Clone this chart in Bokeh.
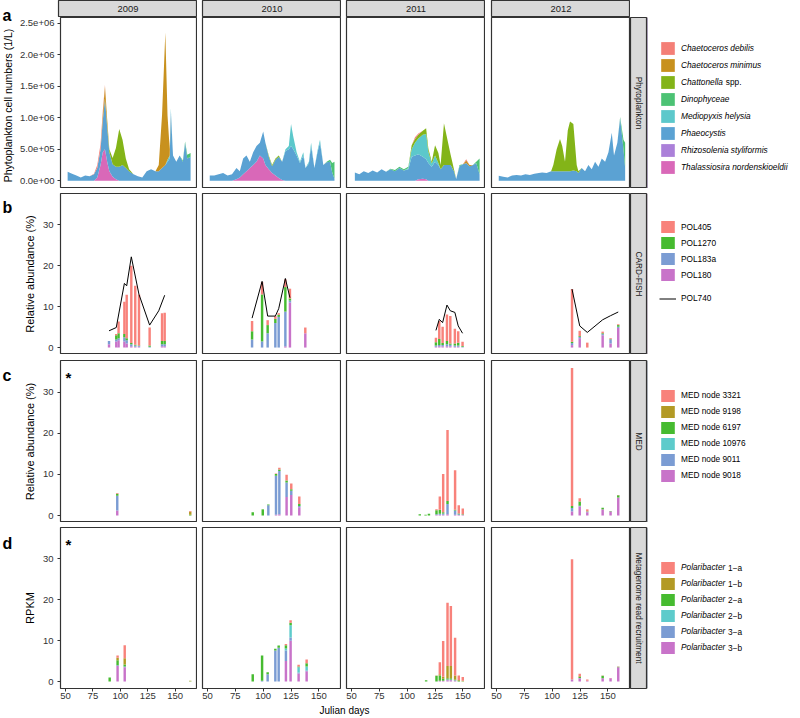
import math
from bokeh.plotting import figure
from bokeh.layouts import row, column
from bokeh.models import ColumnDataSource, Range1d, FixedTicker, Label, Legend, LegendItem
from bokeh.embed import file_html
from bokeh.resources import INLINE

FONT = "Liberation Sans"
YEARS = [2009, 2010, 2011, 2012]
X_TICKS = [50, 75, 100, 125, 150]
A_Y_TICKS = [0, 500000, 1000000, 1500000, 2000000, 2500000]
A_Y_LABELS = ["0.0e+00", "5.0e+05", "1.0e+06", "1.5e+06", "2.0e+06", "2.5e+06"]
B_Y_TICKS = [0, 10, 20, 30]
ROW_STRIPS = ["Phytoplankton", "CARD-FISH", "MED", "Metagenome read recruitment"]
ROW_YLABELS = ["Phytoplankton cell numbers (1/L)", "Relative abundance (%)", "Relative abundance (%)", "RPKM"]
LETTERS = ["a", "b", "c", "d"]

# ---------------- Phytoplankton (stacked areas) ----------------
PHYTO_NAMES = ["Chaetoceros debilis", "Chaetoceros minimus", "Chattonella", "Dinophyceae",
               "Mediopyxis helysia", "Phaeocystis", "Rhizosolenia styliformis", "Thalassiosira nordenskioeldii"]
PHYTO_KEYS = ["cdeb", "cmin", "chat", "dino", "medio", "phaeo", "rhizo", "thal"]
PHYTO_COLORS = ["#F47F77", "#C8911E", "#83B418", "#4CC274", "#5CC8CB", "#5BA2D3", "#AB80D9", "#D968B8"]

P2009_DAYS = [52, 56, 60, 64, 68, 72, 76, 79, 82, 84, 86, 88, 90, 93, 96, 99, 102, 105, 108, 112, 116, 120,
              124, 128, 132, 135, 138, 141, 143, 145, 146, 148, 151, 154, 157, 159, 161, 164]
P2009_PHAEO = [1.4e5, 1.1e5, 8e4, 5e4, 8e4, 7e4, 1e5, 1.5e5, 2.5e5, 5e5, 8e5, 5.5e5, 3e5, 2e5, 2e5, 2.2e5,
               2.5e5, 2e5, 1.5e5, 1e5, 7e4, 5e4, 1.5e5, 1.8e5, 1.5e5, 1.5e5, 2e5, 2.5e5, 3e5, 3.5e5, 1.1e6,
               4e5, 3e5, 4e5, 3e5, 6e5, 3.5e5, 3.8e5]
P2009_OTHER = {
    "thal": {79: 5e4, 82: 2.5e5, 84: 4.5e5, 86: 5e5, 88: 3e5, 90: 1.5e5, 93: 6e4, 96: 2e4},
    "cmin": {84: 1e5, 86: 2e5, 88: 1e5, 135: 1e5, 138: 8.4e5, 141: 2.1e6, 143: 7e5, 145: 1e5},
    "chat": {88: 3e4, 90: 5e4, 93: 1e5, 96: 3e5, 99: 6e5, 102: 4e5, 105: 1.5e5, 108: 3e4},
    "cdeb": {76: 1e4, 79: 5e4, 82: 8e4, 84: 5e4, 86: 2e4},
    "dino": {157: 2e4, 159: 2e4, 161: 6e4, 164: 6e4},
    "medio": {143: 3e4, 145: 5e4, 146: 5e4},
    "rhizo": {},
}

P2010_DAYS = [52, 56, 60, 64, 68, 72, 76, 79, 82, 85, 88, 91, 94, 97, 100, 102, 105, 108, 111, 114, 117, 120,
              123, 125, 127, 130, 133, 136, 138, 141, 143, 146, 149, 151, 154, 157, 160, 162, 164]
P2010_PHAEO = [8e4, 8e4, 1e5, 1.2e5, 8e4, 1e5, 1.8e5, 1e5, 2.5e5, 2.5e5, 1e5, 2e5, 2.5e5, 2e5, 4.3e5, 3.5e5,
               2e5, 1.1e5, 2.5e5, 3.4e5, 2.9e5, 4.7e5, 5e5, 5.5e5, 5e5, 4e5, 2.8e5, 4e5, 2e5, 2.7e5, 5.5e5,
               2e5, 4.7e5, 6e5, 2.5e5, 2.9e5, 3e5, 1.3e5, 3e4]
P2010_OTHER = {
    "thal": {76: 2e4, 79: 5e4, 82: 1e5, 85: 1.5e5, 88: 2e5, 91: 2.5e5, 94: 3e5, 97: 4e5, 100: 3.5e5,
             102: 2.5e5, 105: 1.8e5, 108: 1.2e5, 111: 8e4, 114: 4e4, 117: 1e4},
    "medio": {120: 3e4, 123: 5e4, 125: 3.5e5, 127: 2e5, 130: 5e4, 133: 2e4, 136: 5e4, 141: 3e4, 143: 5e4,
              149: 3e4, 151: 5e4},
    "dino": {157: 1e4, 160: 3e4, 162: 1.5e5, 164: 2.7e5},
    "chat": {105: 2e4, 108: 2e4, 111: 2e4, 114: 2e4},
    "cmin": {}, "cdeb": {}, "rhizo": {},
}

P2011_DAYS = [53, 57, 61, 65, 69, 73, 77, 81, 85, 89, 93, 97, 101, 104, 107, 110, 114, 117, 119, 122, 125,
              128, 130, 133, 136, 139, 142, 144, 147, 150, 153, 156, 159, 162, 165]
P2011_PHAEO = [1.3e5, 1e5, 1.5e5, 1.2e5, 1.6e5, 1.3e5, 1.8e5, 1.4e5, 1.8e5, 1.5e5, 2e5, 1.6e5, 1.8e5, 3.8e5,
               4e5, 4e5, 3.5e5, 3.2e5, 2.8e5, 2.2e5, 3e5, 2.5e5, 1.8e5, 2.5e5, 2.5e5, 2.5e5, 1.5e5, 2.5e4,
               2.3e5, 2.6e5, 2.8e5, 2.3e5, 2.5e5, 2.8e5, 1e5]
P2011_OTHER = {
    "medio": {101: 2e4, 104: 1.2e5, 107: 2e5, 110: 2.5e5, 114: 3.5e5, 117: 4e5, 119: 1.8e5, 122: 5e4,
              125: 1e5, 128: 3e4},
    "chat": {104: 6e4, 107: 6e4, 110: 6e4, 114: 6e4, 117: 9e4, 119: 5e4, 122: 3e4, 125: 1.6e5, 128: 1.6e5,
             130: 7e4, 133: 6.6e5, 136: 4.1e5, 139: 1.6e5, 142: 3e4},
    "dino": {85: 1e4, 89: 2e4, 93: 2e4, 97: 2e4, 101: 2e4, 147: 2e4, 162: 2e4, 165: 2.5e5},
    "cmin": {153: 4e4, 156: 2e4},
    "cdeb": {107: 3e4, 110: 2e4, 153: 2e4},
    "thal": {110: 2e4, 114: 3e4, 117: 2e4},
    "rhizo": {},
}

P2012_DAYS = [52, 56, 60, 64, 68, 72, 76, 80, 84, 88, 91, 95, 99, 101, 104, 107, 109, 111.5, 114, 116,
              119, 122, 123.5, 126.5, 129.5, 132.5, 135.5, 138.5, 141.5, 144.5, 147.5, 150.5, 153.5, 155.5,
              158.5, 161, 164, 165.5]
P2012_PHAEO = [7.6e4, 6e4, 5e4, 8e4, 9e4, 8e4, 1e5, 9e4, 1.1e5, 1.2e5, 1.3e5, 1.2e5, 1.5e5, 1.5e5, 1.5e5,
               1.5e5, 1.5e5, 1.5e5, 1.5e5, 1.5e5, 1.6e5, 1.5e5, 1.2e5, 2e5, 1.5e5, 2.5e5, 1.8e5, 3e5,
               2.2e5, 3.5e5, 3e5, 4.5e5, 7.6e5, 4e5, 6e5, 9.9e5, 5e5, 2e5]
P2012_OTHER = {
    "chat": {101: 1e5, 104: 3.5e5, 107: 5.1e5, 109: 4e5, 111.5: 1.5e5, 114: 6.5e5, 116: 7.9e5, 119: 7.4e5,
             122: 1e5, 123.5: 3e4},
    "dino": {161: 2e4, 164: 1.5e5, 165.5: 4e5},
    "medio": {}, "cmin": {}, "cdeb": {}, "thal": {}, "rhizo": {},
}

PHYTO = {2009: (P2009_DAYS, P2009_PHAEO, P2009_OTHER), 2010: (P2010_DAYS, P2010_PHAEO, P2010_OTHER),
         2011: (P2011_DAYS, P2011_PHAEO, P2011_OTHER), 2012: (P2012_DAYS, P2012_PHAEO, P2012_OTHER)}

# ---------------- CARD-FISH (stacked bars + POL740 line) ----------------
CARD_NAMES = ["POL405", "POL1270", "POL183a", "POL180"]
CARD_KEYS = ["pol405", "pol1270", "pol183a", "pol180"]
CARD_COLORS = ["#F8827B", "#46BB30", "#7B9CD3", "#C873C9"]

CARD_2009_DAYS = [89.7, 96.3, 98.4, 103.7, 105.8, 110.0, 113.6, 117.0, 126.7, 138.0, 140.4]
CARD_2009 = {"pol180": [0.8, 1.5, 1.8, 1.5, 1.0, 0.3, 0.2, 0.2, 0.0, 0.3, 0.3],
             "pol183a": [0.8, 0.5, 0.5, 1.0, 0.8, 0.5, 0.3, 0.2, 0.2, 0.5, 0.5],
             "pol1270": [0.0, 1.0, 1.2, 0.8, 0.5, 0.3, 0.2, 0.1, 0.3, 0.8, 0.8],
             "pol405": [0.0, 0.3, 2.9, 7.9, 10.6, 18.9, 14.4, 12.5, 4.4, 6.8, 6.9]}
POL740_2009_DAYS = [89.7, 96.3, 103.7, 105.8, 110.0, 117.0, 126.7, 135.0, 140.4]
POL740_2009 = [4.1, 4.9, 15.7, 15.1, 22.2, 13.0, 5.5, 9.0, 12.8]

CARD_2010_DAYS = [90.0, 99.0, 104.0, 110.9, 113.9, 119.9, 124.0, 137.8]
CARD_2010 = {"pol180": [0.0, 0.0, 0.0, 0.0, 0.0, 0.3, 11.0, 3.5],
             "pol183a": [2.0, 1.5, 3.5, 6.0, 7.5, 8.5, 0.5, 0.0],
             "pol1270": [2.0, 11.5, 2.0, 1.0, 0.5, 6.0, 0.5, 0.0],
             "pol405": [2.5, 3.0, 1.2, 0.7, 0.4, 1.9, 2.4, 1.4]}
POL740_2010_DAYS = [90.0, 99.0, 104.0, 110.9, 113.9, 119.9, 124.0]
POL740_2010 = [7.2, 16.2, 7.7, 7.7, 9.5, 16.9, 12.2]

CARD_2011_DAYS = [125.8, 128.8, 131.8, 135.7, 138.7, 142.8, 145.8, 149.7]
CARD_2011 = {"pol180": [0.2, 0.3, 0.3, 0.3, 0.3, 0.2, 0.2, 0.1],
             "pol183a": [0.3, 0.3, 0.3, 0.5, 0.4, 0.3, 0.3, 0.1],
             "pol1270": [0.8, 1.5, 0.5, 0.8, 0.3, 0.5, 0.7, 0.2],
             "pol405": [1.1, 4.4, 4.0, 6.5, 6.7, 3.6, 2.8, 1.0]}
POL740_2011_DAYS = [125.8, 128.8, 131.8, 135.7, 138.7, 142.8, 145.8, 149.7]
POL740_2011 = [4.2, 6.9, 6.1, 10.4, 9.0, 8.6, 5.3, 3.5]

CARD_2012_DAYS = [117.8, 124.7, 131.5, 145.3, 152.4, 159.3]
CARD_2012 = {"pol180": [0.6, 2.3, 0.0, 3.0, 1.0, 4.8],
             "pol183a": [0.5, 0.3, 0.0, 0.3, 1.0, 0.3],
             "pol1270": [0.3, 0.2, 0.0, 0.2, 0.1, 0.4],
             "pol405": [12.9, 1.3, 1.2, 0.4, 0.2, 0.2]}
POL740_2012_DAYS = [117.8, 124.7, 131.5, 145.3, 152.4, 159.3]
POL740_2012 = [14.3, 5.3, 3.7, 6.8, 7.8, 8.7]

CARD = {2009: (CARD_2009_DAYS, CARD_2009, POL740_2009_DAYS, POL740_2009),
        2010: (CARD_2010_DAYS, CARD_2010, POL740_2010_DAYS, POL740_2010),
        2011: (CARD_2011_DAYS, CARD_2011, POL740_2011_DAYS, POL740_2011),
        2012: (CARD_2012_DAYS, CARD_2012, POL740_2012_DAYS, POL740_2012)}

# ---------------- MED nodes (stacked bars) ----------------
MED_NAMES = ["MED node 3321", "MED node 9198", "MED node 6197", "MED node 10976", "MED node 9011", "MED node 9018"]
MED_KEYS = ["m3321", "m9198", "m6197", "m10976", "m9011", "m9018"]
SIX_COLORS = ["#F8827B", "#B39A25", "#46BB30", "#5DCBCB", "#7B9CD3", "#C873C9"]

MED_2009_DAYS = [97.2, 163.7]
MED_2009 = {"m9018": [1.2, 0.0], "m9011": [3.6, 0.0], "m10976": [0.0, 0.0],
            "m6197": [0.5, 0.2], "m9198": [0.0, 0.7], "m3321": [0.2, 0.2]}
MED_2010_DAYS = [90.6, 99.6, 104.6, 111.5, 114.5, 121.0, 125.2, 132.4]
MED_2010 = {"m9018": [0.0, 0.0, 0.0, 0.2, 0.3, 4.5, 5.0, 2.0],
            "m9011": [0.0, 0.0, 2.5, 9.5, 10.5, 3.5, 1.0, 0.3],
            "m10976": [0.0, 0.0, 0.0, 0.0, 0.0, 0.0, 0.0, 0.0],
            "m6197": [0.8, 1.5, 0.2, 0.4, 0.4, 0.5, 0.4, 0.5],
            "m9198": [0.0, 0.0, 0.0, 0.0, 0.0, 0.0, 0.0, 0.0],
            "m3321": [0.0, 0.0, 0.0, 0.1, 0.4, 1.4, 1.4, 1.8]}
MED_2011_DAYS = [111.3, 116.5, 119.5, 126.3, 129.3, 132.3, 136.2, 143.0, 146.3, 149.9]
MED_2011 = {"m9018": [0.0, 0.0, 0.0, 0.1, 0.2, 0.2, 0.3, 0.2, 0.1, 0.1],
            "m9011": [0.0, 0.0, 0.0, 0.2, 0.2, 0.3, 2.5, 1.0, 0.2, 0.1],
            "m10976": [0.0, 0.0, 0.0, 0.0, 0.0, 0.0, 0.0, 0.0, 0.0, 0.0],
            "m6197": [0.3, 0.2, 0.4, 1.0, 1.0, 0.3, 0.7, 0.2, 0.2, 0.1],
            "m9198": [0.0, 0.0, 0.0, 0.0, 0.0, 0.0, 0.0, 0.0, 0.0, 0.0],
            "m3321": [0.0, 0.0, 0.0, 0.2, 3.2, 9.3, 17.3, 9.6, 2.0, 1.4]}
MED_2012_DAYS = [117.8, 124.7, 131.5, 145.3, 152.4, 159.3]
MED_2012 = {"m9018": [1.0, 2.2, 0.8, 1.5, 1.0, 4.4],
            "m9011": [0.8, 0.2, 0.1, 0.0, 0.0, 0.0],
            "m10976": [0.0, 0.0, 0.0, 0.0, 0.0, 0.0],
            "m6197": [0.5, 1.0, 0.1, 0.4, 0.1, 0.5],
            "m9198": [0.0, 0.0, 0.0, 0.0, 0.0, 0.0],
            "m3321": [33.6, 0.8, 0.5, 0.0, 0.0, 0.1]}
MED = {2009: (MED_2009_DAYS, MED_2009), 2010: (MED_2010_DAYS, MED_2010),
       2011: (MED_2011_DAYS, MED_2011), 2012: (MED_2012_DAYS, MED_2012)}

# ---------------- Metagenome read recruitment (stacked bars) ----------------
META_SUFFIX = ["1\u2212a", "1\u2212b", "2\u2212a", "2\u2212b", "3\u2212a", "3\u2212b"]
META_KEYS = ["p1a", "p1b", "p2a", "p2b", "p3a", "p3b"]

META_2009_DAYS = [90.3, 97.5, 104.0, 163.7]
META_2009 = {"p3b": [0.0, 3.8, 3.5, 0.0], "p3a": [0.0, 0.2, 0.2, 0.0], "p2b": [0.0, 0.0, 0.0, 0.0],
             "p2a": [1.0, 1.2, 0.5, 0.1], "p1b": [0.0, 0.6, 1.5, 0.1], "p1a": [0.0, 0.6, 3.2, 0.0]}
META_2010_DAYS = [90.6, 99.0, 104.0, 110.9, 113.9, 120.4, 124.6, 131.8, 139.0]
META_2010 = {"p3b": [0.0, 0.0, 0.0, 0.0, 0.0, 5.0, 10.0, 2.0, 2.5],
             "p3a": [0.0, 0.2, 1.8, 7.6, 8.3, 2.6, 0.8, 0.2, 0.2],
             "p2b": [0.0, 0.0, 0.0, 0.0, 0.0, 0.5, 3.0, 1.3, 1.0],
             "p2a": [1.8, 6.2, 0.5, 0.4, 0.5, 0.8, 0.6, 0.2, 0.8],
             "p1b": [0.0, 0.0, 0.0, 0.0, 0.0, 0.0, 0.0, 0.0, 0.0],
             "p1a": [0.0, 0.0, 0.0, 0.0, 0.0, 0.3, 0.6, 0.4, 0.9]}
META_2011_DAYS = [117.0, 126.3, 129.3, 132.3, 136.2, 139.2, 143.0, 146.3, 149.9]
META_2011 = {"p3b": [0.0, 0.0, 0.2, 0.2, 0.3, 0.3, 0.2, 0.0, 0.0],
             "p3a": [0.0, 0.0, 0.0, 0.0, 0.2, 0.2, 0.1, 0.0, 0.0],
             "p2b": [0.0, 0.0, 0.0, 0.0, 0.0, 0.0, 0.0, 0.0, 0.0],
             "p2a": [0.3, 1.4, 1.3, 0.5, 0.3, 0.3, 0.2, 0.2, 0.1],
             "p1b": [0.0, 0.0, 0.3, 0.5, 3.0, 3.0, 1.0, 0.2, 0.1],
             "p1a": [0.0, 0.1, 2.9, 8.7, 15.5, 14.7, 9.2, 1.1, 0.9]}
META_2012_DAYS = [117.8, 124.7, 131.5, 145.3, 152.4, 159.3]
META_2012 = {"p3b": [0.4, 0.8, 0.2, 0.8, 0.8, 3.5],
             "p3a": [0.1, 0.1, 0.0, 0.0, 0.0, 0.0],
             "p2b": [0.0, 0.0, 0.0, 0.0, 0.0, 0.0],
             "p2a": [0.0, 0.2, 0.0, 0.6, 0.0, 0.1],
             "p1b": [0.0, 0.2, 0.0, 0.0, 0.0, 0.0],
             "p1a": [29.4, 0.6, 0.3, 0.1, 0.1, 0.1]}
META = {2009: (META_2009_DAYS, META_2009), 2010: (META_2010_DAYS, META_2010),
        2011: (META_2011_DAYS, META_2011), 2012: (META_2012_DAYS, META_2012)}

# ---------------- layout constants ----------------
LEFT_TOTAL = 58            # page x 0 -> 58 (left of first frame)
GUTTER = [16, 20, 20, 20]  # text column left of the first panel in each row
COL_LEFT = [5, 5, 6]       # gaps before columns 2..4
FRAME_W = 139
STRIP_W = 17
LEG_W = 150
STRIP_H = 17
ROW_FRAME_H = [171, 161, 162, 161]
ROW_TOP = [0, 5, 6, 5]
ROW_BOTTOM = [0, 0, 0, 15]
JULIAN_H = 14
BAR_W = 2.2
STRIP_FILL = "#D9D9D9"
BORDER = "#333333"
TXT = "#333333"
TICK_FONT = "9.5px"

XR = Range1d(45.5, 170.3)
A_YR = Range1d(-1.25e5, 2.59e6)
B_YR = Range1d(-1.7, 37.7)


def base_fig(w, h, xr, yr, left=0, right=0, top=0, bottom=0, xaxis=False, yaxis=False):
    p = figure(width=w, height=h, x_range=xr, y_range=yr, output_backend="svg",
               toolbar_location=None, tools="", title=None,
               x_axis_location="below" if xaxis else None,
               y_axis_location="left" if yaxis else None,
               min_border_left=left, min_border_right=right,
               min_border_top=top, min_border_bottom=bottom)
    p.grid.visible = False
    p.background_fill_color = "white"
    p.border_fill_color = "white"
    p.outline_line_color = BORDER
    p.outline_line_width = 1.2
    return p


def style_axis(ax, standoff):
    ax.axis_line_color = None
    ax.major_tick_line_color = TXT
    ax.major_tick_out = 3
    ax.major_tick_in = 0
    ax.minor_tick_line_color = None
    ax.major_label_text_font = FONT
    ax.major_label_text_font_size = TICK_FONT
    ax.major_label_text_color = TXT
    ax.major_label_standoff = standoff
    ax.axis_label_text_font = FONT
    ax.axis_label_text_font_style = "normal"
    ax.axis_label_text_color = "black"


def row_height(r):
    return ROW_TOP[r] + ROW_FRAME_H[r] + ROW_BOTTOM[r]


def letter_label(text, y):
    return Label(x=2, y=y, text=text, text_font=FONT, text_font_style="bold", text_font_size="16px",
                 text_baseline="alphabetic", text_color="black")


def panel(r, j):
    left = (LEFT_TOTAL - GUTTER[r]) if j == 0 else COL_LEFT[j - 1]
    p = base_fig(left + FRAME_W, row_height(r), XR, A_YR if r == 0 else B_YR,
                 left=left, top=ROW_TOP[r], bottom=ROW_BOTTOM[r], xaxis=(r == 3), yaxis=(j == 0))
    if r == 3:
        ax = p.xaxis[0]
        ax.ticker = FixedTicker(ticks=X_TICKS)
        style_axis(ax, 1)
    if j == 0:
        ay = p.yaxis[0]
        if r == 0:
            style_axis(ay, 3)
            ay.ticker = FixedTicker(ticks=A_Y_TICKS)
            ay.major_label_overrides = dict(zip(A_Y_TICKS, A_Y_LABELS))
        else:
            style_axis(ay, 4)
            ay.axis_label = ROW_YLABELS[r]
            ay.ticker = FixedTicker(ticks=B_Y_TICKS)
            ay.axis_label_text_font_size = "11px"
            ay.axis_label_standoff = 4
        if r in (2, 3):
            p.add_layout(Label(x=5, y=ROW_FRAME_H[r] - 17, x_units="screen", y_units="screen",
                               text="*", text_font=FONT, text_font_style="bold",
                               text_font_size="15px", text_baseline="alphabetic", text_color="black"))
    return p


def right_strip(r):
    p = base_fig(STRIP_W, row_height(r), Range1d(0, 1), Range1d(0, 1), top=ROW_TOP[r], bottom=ROW_BOTTOM[r])
    p.background_fill_color = STRIP_FILL
    p.add_layout(Label(x=0.5, y=0.5, text=ROW_STRIPS[r], angle=-math.pi / 2, text_align="center",
                       text_baseline="middle", text_font=FONT, text_font_size="8.3px", text_color="#1A1A1A"))
    return p


GLYPH_W, LEG_X, STANDOFF = 17, 12, 5


def legend_fig(r, names, colors, top_off, glyph_h=15, spacing=1, italic=False, suffixes=None,
               suffix_x=None, line_name=None, line_top_off=None):
    fh = ROW_FRAME_H[r]
    lf = base_fig(LEG_W, row_height(r), Range1d(0, 1), Range1d(0, 1), top=ROW_TOP[r], bottom=ROW_BOTTOM[r])
    lf.outline_line_color = None
    items = []
    for name, c in zip(names, colors):
        # legend key renderer; its single bar sits outside the visible range
        rr = lf.vbar(x=[-10], top=[1], bottom=[0], width=0.5, fill_color=c, line_color=None)
        items.append(LegendItem(label=name, renderers=[rr]))
    n = len(items)
    lh = n * glyph_h + (n - 1) * spacing

    def mk(its, y):
        return Legend(items=its, location=(LEG_X, y), padding=0, margin=0, spacing=spacing,
                      glyph_width=GLYPH_W, glyph_height=glyph_h, label_height=glyph_h,
                      label_standoff=STANDOFF, border_line_color=None, background_fill_alpha=0,
                      label_text_font=FONT, label_text_font_size="8.3px", label_text_color="black",
                      label_text_font_style="italic" if italic else "normal")

    lf.add_layout(mk(items, fh - top_off - lh))
    if suffixes:
        for i, s in enumerate(suffixes):
            if s:
                lf.add_layout(Label(x=suffix_x, y=fh - (top_off + i * (glyph_h + spacing) + glyph_h / 2),
                                    x_units="screen", y_units="screen", text=s, text_font=FONT,
                                    text_font_size="8.3px", text_baseline="middle", text_color="black"))
    if line_name:
        lr = lf.line(x=[-10, -9], y=[0.5, 0.5], line_color="black", line_width=1)
        lf.add_layout(mk([LegendItem(label=line_name, renderers=[lr])], fh - line_top_off - glyph_h))
    return lf


def row_with_gutter(r, figs):
    below = [0, 13.7, 15, 16][r]
    g = base_fig(GUTTER[r], row_height(r), Range1d(0, GUTTER[r]), Range1d(0, ROW_FRAME_H[r]),
                 top=ROW_TOP[r], bottom=ROW_BOTTOM[r])
    g.outline_line_color = None
    g.add_layout(letter_label(LETTERS[r], ROW_FRAME_H[r] - below))
    return row(g, *figs)


# ---------------- build ----------------
# year strips
strip_row = []
for j, yr in enumerate(YEARS):
    left = (LEFT_TOTAL - GUTTER[0]) if j == 0 else COL_LEFT[j - 1]
    f = base_fig(left + FRAME_W, STRIP_H, Range1d(0, 1), Range1d(0, 1), left=left)
    f.background_fill_color = STRIP_FILL
    f.add_layout(Label(x=0.5, y=0.5, text=str(yr), text_align="center", text_baseline="middle",
                       text_font=FONT, text_font_size="9.4px", text_color="#1A1A1A"))
    strip_row.append(f)

# row a: phytoplankton
figs = []
stack_keys = PHYTO_KEYS[::-1]
stack_colors = PHYTO_COLORS[::-1]
for j, yr in enumerate(YEARS):
    p = panel(0, j)
    days, phaeo, other = PHYTO[yr]
    data = {"day": days}
    for k in PHYTO_KEYS:
        data[k] = phaeo if k == "phaeo" else [other.get(k, {}).get(d, 0.0) for d in days]
    p.varea_stack(stackers=stack_keys, x="day", fill_color=stack_colors, source=ColumnDataSource(data))
    figs.append(p)
figs.append(right_strip(0))
figs.append(legend_fig(0, PHYTO_NAMES, PHYTO_COLORS, 22.7, glyph_h=16, spacing=1, italic=True,
                       suffixes=["", "", "spp.", "", "", "", "", ""],
                       suffix_x=LEG_X + GLYPH_W + STANDOFF + 8.3 * (5.058 + 0.278)))

# left text column for strips + row a: letter "a" and the y-axis title
ga_h = STRIP_H + row_height(0)
ga = base_fig(GUTTER[0], ga_h, Range1d(0, GUTTER[0]), Range1d(0, ga_h))
ga.outline_line_color = None
ga.add_layout(letter_label("a", ga_h - 15))
ga.add_layout(Label(x=7, y=ga_h - 105, text=ROW_YLABELS[0], angle=math.pi / 2, text_align="center",
                    text_baseline="middle", text_font=FONT, text_font_size="10.5px", text_color="black"))

block_a = row(ga, column(row(*strip_row), row(*figs)))
rows = [block_a]

# row b: CARD-FISH
figs = []
for j, yr in enumerate(YEARS):
    p = panel(1, j)
    days, comp, ldays, lvals = CARD[yr]
    data = {"day": days}
    data.update(comp)
    p.vbar_stack(stackers=CARD_KEYS[::-1], x="day", width=BAR_W, fill_color=CARD_COLORS[::-1],
                 line_color=None, source=ColumnDataSource(data))
    p.line(x="day", y="val", source=ColumnDataSource({"day": ldays, "val": lvals}),
           line_color="black", line_width=1)
    figs.append(p)
figs.append(right_strip(1))
figs.append(legend_fig(1, CARD_NAMES, CARD_COLORS, 26.2, line_name="POL740", line_top_off=97.8))
rows.append(row_with_gutter(1, figs))

# row c: MED
figs = []
for j, yr in enumerate(YEARS):
    p = panel(2, j)
    days, comp = MED[yr]
    data = {"day": days}
    data.update(comp)
    p.vbar_stack(stackers=MED_KEYS[::-1], x="day", width=BAR_W, fill_color=SIX_COLORS[::-1],
                 line_color=None, source=ColumnDataSource(data))
    figs.append(p)
figs.append(right_strip(2))
figs.append(legend_fig(2, MED_NAMES, SIX_COLORS, 27.5))
rows.append(row_with_gutter(2, figs))

# row d: metagenome
figs = []
for j, yr in enumerate(YEARS):
    p = panel(3, j)
    days, comp = META[yr]
    data = {"day": days}
    data.update(comp)
    p.vbar_stack(stackers=META_KEYS[::-1], x="day", width=BAR_W, fill_color=SIX_COLORS[::-1],
                 line_color=None, source=ColumnDataSource(data))
    figs.append(p)
figs.append(right_strip(3))
figs.append(legend_fig(3, ["Polaribacter"] * 6, SIX_COLORS, 32.5, italic=True, suffixes=META_SUFFIX,
                       suffix_x=LEG_X + GLYPH_W + STANDOFF + 8.3 * (5.335 + 0.278)))
rows.append(row_with_gutter(3, figs))

# x-axis title, centred under the four panels
panels_w = 4 * FRAME_W + sum(COL_LEFT)
jf = base_fig(LEFT_TOTAL + panels_w, JULIAN_H, Range1d(0, 1), Range1d(0, JULIAN_H), left=LEFT_TOTAL)
jf.outline_line_color = None
jf.add_layout(Label(x=0.5, y=7, text="Julian days", text_align="center", text_baseline="middle",
                    text_font=FONT, text_font_size="10px", text_color="black"))
rows.append(row(jf))

layout = column(*rows)
open("out.html", "w").write(file_html(layout, INLINE, title="Polaribacter"))
